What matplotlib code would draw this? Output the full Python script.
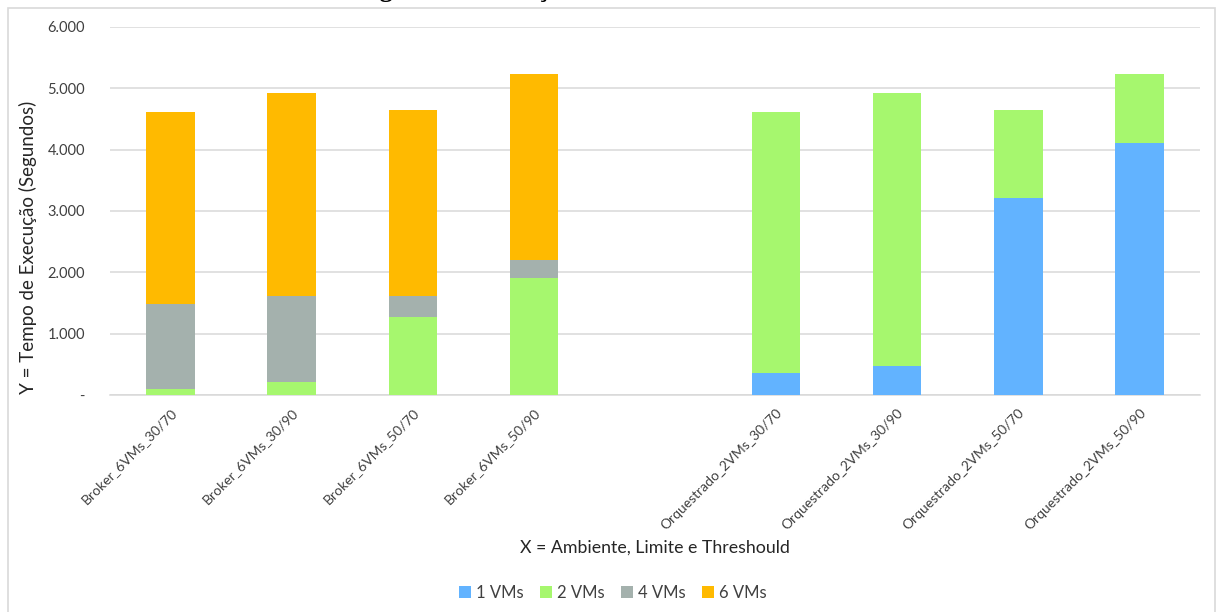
import matplotlib
matplotlib.use("Agg")
import matplotlib.pyplot as plt
from matplotlib.ticker import FuncFormatter, MultipleLocator
from matplotlib.patches import Rectangle
import numpy as np

plt.rcParams['font.family'] = ['Lato', 'DejaVu Sans']

categories = [
    "Broker_6VMs_30/70", "Broker_6VMs_30/90", "Broker_6VMs_50/70", "Broker_6VMs_50/90",
    "",
    "Orquestrado_2VMs_30/70", "Orquestrado_2VMs_30/90", "Orquestrado_2VMs_50/70", "Orquestrado_2VMs_50/90",
]
vms_1 = [0, 0, 0, 0, 0, 360, 480, 3210, 4110]
vms_2 = [100, 210, 1270, 1910, 0, 4260, 4440, 1440, 1120]
vms_4 = [1380, 1400, 340, 290, 0, 0, 0, 0, 0]
vms_6 = [3140, 3310, 3040, 3030, 0, 0, 0, 0, 0]

series = [("1 VMs", vms_1, "#62B3FF"),
          ("2 VMs", vms_2, "#A6F76E"),
          ("4 VMs", vms_4, "#A4B1AD"),
          ("6 VMs", vms_6, "#FFBA00")]

W, H = 1216, 612
fig = plt.figure(figsize=(W / 100, H / 100), dpi=100)
fig.patch.set_facecolor("white")

# outer chart frame
fig.patches.append(Rectangle((8 / W, -0.05), (1215 - 8) / W, 1 - 8 / H + 0.05,
                             transform=fig.transFigure, fill=False,
                             edgecolor="#D9D9D9", linewidth=1.2))

# figure caption sitting above the frame (only its lower edge falls on the page)
fig.text(0.5, 1 + 3 / H, "Figura 5 - Alocação de recursos no Cenário 3",
         ha="center", va="baseline", fontsize=19, fontweight="bold",
         family="Liberation Serif", color="black")

ax = fig.add_axes([110 / W, (H - 395) / H, 1090 / W, 368 / H])
x = np.arange(len(categories))
bottom = np.zeros(len(categories))
for name, vals, col in series:
    vals = np.array(vals, dtype=float)
    ax.bar(x, vals, width=0.40, bottom=bottom, color=col, label=name, zorder=3)
    bottom += vals

ax.set_xlim(-0.5, len(categories) - 0.5)
ax.set_ylim(0, 6000)
ax.yaxis.set_major_locator(MultipleLocator(1000))
ax.yaxis.set_major_formatter(FuncFormatter(
    lambda v, p: "-" if v == 0 else f"{int(v):,}".replace(",", ".")))
ax.grid(axis="y", color="#D9D9D9", linewidth=1.1, zorder=0)
for s in ["top", "right", "left"]:
    ax.spines[s].set_visible(False)
ax.spines["bottom"].set_color("#D9D9D9")
ax.spines["bottom"].set_linewidth(1.1)
ax.tick_params(axis="both", length=0, colors="#404040", labelsize=10.5)
ax.tick_params(axis="y", pad=18)

ax.set_xticks(x)
ax.set_xticklabels(categories, rotation=45, ha="right", rotation_mode="anchor",
                   fontsize=10, color="#404040")
ax.tick_params(axis="x", pad=8)

fig.text(655 / W, 1 - 548 / H, "X = Ambiente, Limite e Threshould",
         ha="center", va="center", fontsize=12.8, color="#262626")
fig.text(28 / W, 1 - 247 / H, "Y = Tempo de Execução (Segundos)",
         ha="center", va="center", rotation=90, fontsize=13.5, color="#262626")

handles, labels = ax.get_legend_handles_labels()
fig.legend(handles, labels, loc="center", bbox_to_anchor=(613 / W, 1 - 593 / H),
           ncol=4, frameon=False, fontsize=12, handlelength=0.7, handleheight=0.7,
           handletextpad=0.35, columnspacing=0.95, labelcolor="#404040")

fig.savefig("out.png", dpi=100, facecolor="white")
